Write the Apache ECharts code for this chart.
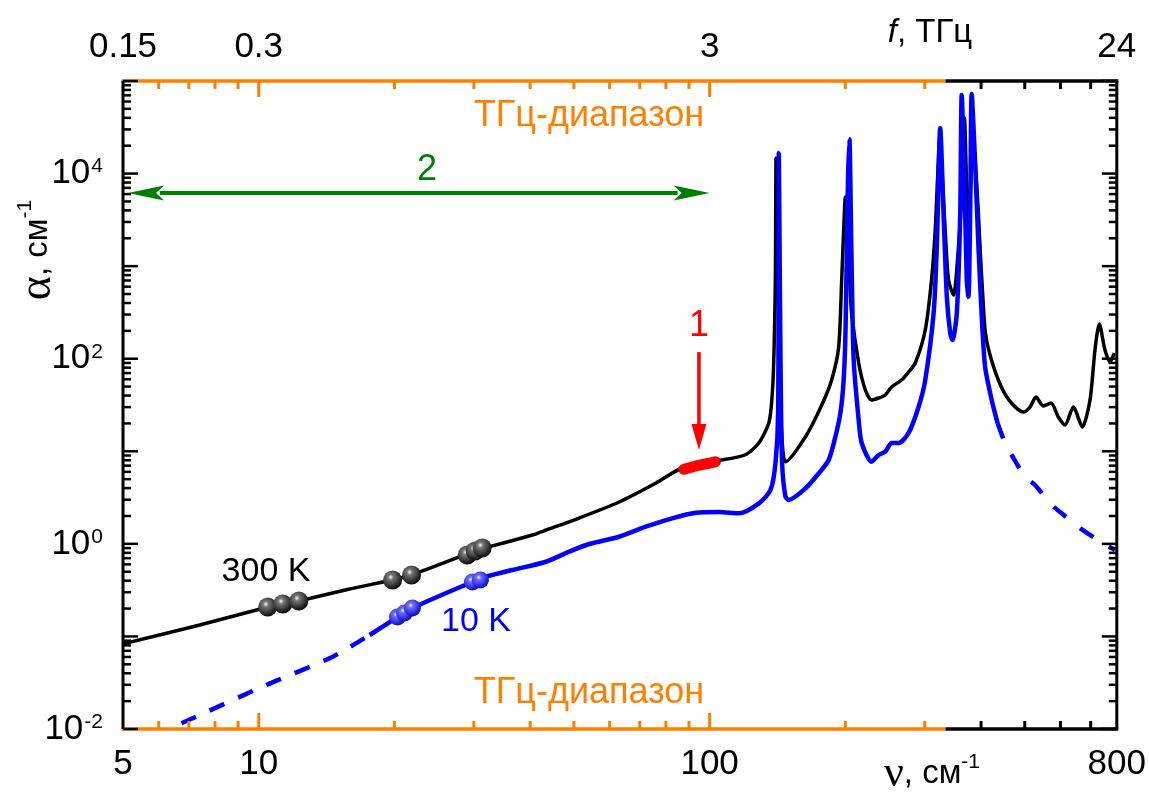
<!DOCTYPE html>
<html><head><meta charset="utf-8">
<script src="https://cdn.jsdelivr.net/npm/echarts/dist/echarts.min.js"></script>
<style>html,body{margin:0;padding:0;background:#fff}#c{width:1149px;height:795px}</style>
</head><body><div id="c"></div>
<script>
// ---------- data ----------
const xLabelValues = [5, 10, 100, 800];              // bottom tick labels, cm^-1
const xLabelsTop = ['0.15', '0.3', '3', '24'];        // top tick labels, THz
const xMajorTicks = [10, 100];
const xMinorTicks = [6, 7, 8, 9, 20, 30, 40, 50, 60, 70, 80, 90, 200, 300, 400, 500, 600, 700];
const thzBandEnd = 333.6;                             // 10 THz in cm^-1 (end of orange band)
const yDecades = [-2, -1, 0, 1, 2, 3, 4, 5];
const yMinorFactors = [2, 3, 4, 5, 6, 7, 8, 9];

const black300 = [
[5.00,0.083],[7.40,0.133],[10.47,0.208],[11.31,0.224],[12.27,0.241],[15.9,0.325],[19.81,0.407],[21.82,0.461],
[29.33,0.797],[31.33,0.902],[32.97,0.95],[40.44,1.246],[43.42,1.411],[51.37,1.902],[62.99,2.832],[76.07,4.544],
[86.87,6.597],[103.3,7.852],[119.7,9.116],[128.6,12.29],[135.3,20.21],[137.4,35.81],[138.8,96.85],[139.9,708.7],
[140.4,14730],[141.1,5182],[142.2,430.7],[143.5,35.81],[145.3,10.32],[147.3,7.717],[163.2,14.37],[177.3,31.62],
[186.5,58.88],[193.3,133.8],[196.3,708.7],[198.3,2457],[200.0,5583],[202.4,2457],[204.5,708.7],[206.5,311.8],
[214.1,89.89],[221.5,45.92],[228.7,35.81],[237.1,37.63],[245.3,40.55],[253.3,49.47],[266.5,58.88],[276.2,71.84],
[285.9,89.89],[300.8,204.2],[310.6,708.7],[316.5,2457],[320.2,8520],[324.3,26100],[328.5,8520],[333.0,2457],
[338.7,708.7],[347.4,487.8],[356.4,1610],[363.7,8520],[367.5,39840],[371.2,8520],[375.0,1917],[378.9,6644],
[383.7,23050],[388.6,12380],[394.7,3567],[398.7,1319],[402.8,552.3],[409.0,189.6],[421.8,96.85],[443.7,49.47],
[467.0,33.23],[496.4,26.57],[513.7,30.08],[529.7,38.58],[549.8,30.84],[571.8,33.23],[593.5,23.46],[614.1,19.22],
[640.7,30.08],[670.8,18.29],[697.7,35.81],[715.6,124.2],[731.6,237.1],[753.1,124.2],[772.5,92.15],[789.7,115]
];
const blue10Solid = [
[17.62,0.1036],[20.31,0.162],[21.05,0.179],[21.92,0.203],[29.78,0.387],[31.02,0.407],[31.93,0.442],[36.51,0.522],
[43.35,0.641],[48.81,0.823],[54.07,0.996],[62.99,1.194],[72.15,1.532],[82.55,1.888],[93.14,2.17],[104.9,2.21],
[116.1,2.14],[128.6,2.74],[136.5,3.82],[140.0,7.47],[141.9,25.9],[142.4,16680],[142.9,2000],[143.6,100],
[144.8,7.47],[147.3,3.23],[149.8,2.98],[163.2,3.98],[174.6,5.78],[183.7,8.05],[190.1,14.37],[195.0,25.91],
[198.3,58.88],[200.2,204.2],[202.7,8520],[204.2,23460],[206.2,1622],[208.7,96.85],[214.1,21.77],[217.4,12.29],
[228.7,7.72],[237.1,9.12],[245.3,9.9],[253.3,12.29],[262.6,12.29],[276.2,15.76],[290.8,30.31],[300.8,58.88],
[313.9,311.8],[319.1,1622],[324.7,30830],[330.2,3750],[335.8,467.7],[341.7,189.6],[345.8,159.3],[353.4,311.8],
[359.6,3750],[362.3,70610],[367.5,8520],[371.8,708.7],[375.0,467.7],[378.3,3750],[381.3,72380],[388.0,13010],
[394.7,1622],[401.4,284.3],[408.3,81.97],[422.3,35.81],[435.3,20.05]
];
const blue10DashLow = [[6.74,0.01152],[10.40,0.0299],[14.59,0.0604],[17.62,0.1036]];
const blue10DashHigh = [[435.3,20.05],[452.1,12.29],[467.7,9.12],[500.7,5.31],[526.9,4.32],[573.5,2.63],
[603.6,2.14],[657.2,1.53],[697.5,1.25],[759.2,0.972],[792.4,0.858]];
const redBand = [[87.7,6.4],[95,7.1],[103,7.7]];
const markers300 = [[10.47,0.208],[11.31,0.224],[12.27,0.241],[19.81,0.407],[21.82,0.461],[29.0,0.758],[30.2,0.837],[31.3,0.902]];
const markers10 = [[20.31,0.162],[21.05,0.179],[21.92,0.203],[29.78,0.387],[31.02,0.407]];
const arrow1X = 94.7, arrow1Y = [118, 10.3];
const arrow2X = [5.13, 100], arrow2Y = 6170;

// ---------- styles ----------
const FONT = '"Liberation Sans", Arial, sans-serif';
const SERIF = '"Liberation Serif", "Times New Roman", serif';
const ORANGE = '#FF8000', GREEN = '#007F00', RED = '#FF0000', BLUE = '#0000FF';
const SMOOTH = 0.25;

function nearestIdx(v) {
  for (let i = 0; i < xLabelValues.length; i++) {
    if (Math.abs(Math.log10(v / xLabelValues[i])) < 0.01) return i;
  }
  return -1;
}

function ln(x1, y1, x2, y2, c, w) {
  return {type: 'line', shape: {x1, y1, x2, y2}, style: {stroke: c, lineWidth: w}};
}

function frameRender(params, api) {
  const cs = params.coordSys;
  const L = cs.x, R = cs.x + cs.width, T = cs.y, B = cs.y + cs.height;
  const ch = [];
  const xb = api.coord([thzBandEnd, 1])[0];
  const aw = 3.5;
  ch.push(ln(L - 1.5, B, xb, B, ORANGE, aw), ln(xb, B, R + 1.5, B, '#000', aw));
  ch.push(ln(L - 1.5, T, xb, T, ORANGE, aw), ln(xb, T, R + 1.5, T, '#000', aw));
  ch.push(ln(L, T, L, B, '#000', 3), ln(R, T, R, B, '#000', 3));
  const xt = (v, len) => {
    const px = api.coord([v, 1])[0];
    const c = v < thzBandEnd ? ORANGE : '#000';
    ch.push(ln(px, B, px, B - len, c, 3), ln(px, T, px, T + len, c, 3));
  };
  xMajorTicks.forEach(v => xt(v, 16));
  xMinorTicks.forEach(v => xt(v, 8));
  const yt = (v, len) => {
    const py = api.coord([10, v])[1];
    ch.push(ln(L, py, L + len, py, '#000', 2.5), ln(R, py, R - len, py, '#000', 2.5));
  };
  yDecades.forEach(d => {
    yt(Math.pow(10, d), 15);
    if (d < 5) yMinorFactors.forEach(k => yt(k * Math.pow(10, d), 8));
  });
  return {type: 'group', children: ch};
}

function arrowRender(params, api) {
  const ch = [];
  const p0 = api.coord([arrow2X[0], arrow2Y]), p1 = api.coord([arrow2X[1], arrow2Y]);
  const hl = 36, hw = 7.5;
  ch.push(ln(p0[0] + hl - 4, p0[1], p1[0] - hl + 4, p1[1], GREEN, 4));
  ch.push({type: 'polygon', shape: {points: [[p0[0], p0[1]], [p0[0] + hl, p0[1] - hw], [p0[0] + hl - 8, p0[1]], [p0[0] + hl, p0[1] + hw]]}, style: {fill: GREEN}});
  ch.push({type: 'polygon', shape: {points: [[p1[0], p1[1]], [p1[0] - hl, p1[1] - hw], [p1[0] - hl + 8, p1[1]], [p1[0] - hl, p1[1] + hw]]}, style: {fill: GREEN}});
  const q0 = api.coord([arrow1X, arrow1Y[0]]), q1 = api.coord([arrow1X, arrow1Y[1]]);
  const rl = 26, rw = 7.5;
  ch.push(ln(q0[0], q0[1], q1[0], q1[1] - rl + 4, RED, 3.5));
  ch.push({type: 'polygon', shape: {points: [[q1[0], q1[1]], [q1[0] - rw, q1[1] - rl], [q1[0] + rw, q1[1] - rl]]}, style: {fill: RED}});
  return {type: 'group', children: ch};
}

const sphere = (hi, mid, dark) => ({type: 'radial', x: 0.4, y: 0.35, r: 0.7,
  colorStops: [{offset: 0, color: hi}, {offset: 0.2, color: mid}, {offset: 1, color: dark}]});

const xAxisCommon = {
  type: 'log', logBase: 10, min: 5, max: 800,
  axisLine: {show: false}, axisTick: {show: false}, splitLine: {show: false}, minorTick: {show: false}
};

const chart = echarts.init(document.getElementById('c'));
chart.setOption({
  animation: false,
  backgroundColor: '#fff',
  grid: {left: 123, right: 32, top: 81, bottom: 66},
  xAxis: [
    Object.assign({}, xAxisCommon, {position: 'bottom',
      axisLabel: {color: '#000', fontSize: 35, fontFamily: FONT, margin: 18, interval: 0, showMinLabel: true, showMaxLabel: true,
        formatter: v => { const i = nearestIdx(v); return i < 0 ? '' : String(xLabelValues[i]); }}}),
    Object.assign({}, xAxisCommon, {position: 'top',
      axisLabel: {color: '#000', fontSize: 35, fontFamily: FONT, margin: 16, interval: 0, showMinLabel: true, showMaxLabel: true,
        formatter: v => { const i = nearestIdx(v); return i < 0 ? '' : xLabelsTop[i]; }}})
  ],
  yAxis: [{
    type: 'log', logBase: 10, min: 0.01, max: 100000,
    axisLine: {show: false}, axisTick: {show: false}, splitLine: {show: false}, minorTick: {show: false},
    axisLabel: {color: '#000', margin: 20, interval: 0, showMinLabel: true, showMaxLabel: true,
      formatter: v => { const e = Math.round(Math.log10(v)); return (e % 2 === 0 && e < 5) ? '{b|10}{s|' + e + '}' : ''; },
      rich: {
        b: {fontSize: 35, fontFamily: FONT, color: '#000'},
        s: {fontSize: 21, fontFamily: FONT, color: '#000', verticalAlign: 'top', padding: [0, 0, 0, 1]}
      }}
  }],
  series: [
    {type: 'line', data: black300, showSymbol: false, symbol: 'none', smooth: SMOOTH, lineStyle: {color: '#000', width: 3.5}, z: 2},
    {type: 'line', data: blue10DashLow, showSymbol: false, symbol: 'none', smooth: SMOOTH, lineStyle: {color: BLUE, width: 4.5, type: [16, 15]}, z: 3},
    {type: 'line', data: blue10Solid, showSymbol: false, symbol: 'none', smooth: SMOOTH, lineStyle: {color: BLUE, width: 4.5}, z: 3},
    {type: 'line', data: blue10DashHigh, showSymbol: false, symbol: 'none', smooth: SMOOTH, lineStyle: {color: BLUE, width: 4.5, type: [16, 18]}, z: 3},
    {type: 'line', data: redBand, showSymbol: false, symbol: 'none', lineStyle: {color: RED, width: 11, cap: 'round'}, z: 4},
    {type: 'scatter', data: markers300, symbol: 'circle', symbolSize: 19, itemStyle: {color: sphere('#ffffff', '#777777', '#000000'), opacity: 1}, z: 5},
    {type: 'scatter', data: markers10, symbol: 'circle', symbolSize: 17, itemStyle: {color: sphere('#ffffff', '#7070ff', '#0000c0'), opacity: 1}, z: 5},
    {type: 'custom', data: [[10, 1]], renderItem: arrowRender, z: 6, silent: true},
    {type: 'custom', data: [[10, 1]], renderItem: frameRender, z: 10, silent: true}
  ],
  graphic: [
    {type: 'text', x: 589, y: 116, z: 20, style: {text: 'ТГц-диапазон', fill: ORANGE, font: '36px ' + FONT, align: 'center', verticalAlign: 'middle'}},
    {type: 'text', x: 589, y: 693, z: 20, style: {text: 'ТГц-диапазон', fill: ORANGE, font: '36px ' + FONT, align: 'center', verticalAlign: 'middle'}},
    {type: 'text', x: 427, y: 170, z: 20, style: {text: '2', fill: GREEN, font: '36px ' + FONT, align: 'center', verticalAlign: 'middle'}},
    {type: 'text', x: 699, y: 326, z: 20, style: {text: '1', fill: RED, font: '36px ' + FONT, align: 'center', verticalAlign: 'middle'}},
    {type: 'text', x: 266, y: 572, z: 20, style: {text: '300 K', fill: '#000', font: '34px ' + FONT, align: 'center', verticalAlign: 'middle'}},
    {type: 'text', x: 476, y: 622, z: 20, style: {text: '10 K', fill: BLUE, font: '34px ' + FONT, align: 'center', verticalAlign: 'middle'}},
    {type: 'text', x: 930, y: 33, z: 20, style: {text: '{i|f}{t|, ТГц}', align: 'center', verticalAlign: 'middle',
      rich: {i: {fontSize: 33, fontFamily: FONT, fontStyle: 'italic', fill: '#000'}, t: {fontSize: 33, fontFamily: FONT, fill: '#000'}}}},
    {type: 'text', x: 932, y: 774, z: 20, style: {text: '{g|ν}{t|, см}{s|-1}', align: 'center', verticalAlign: 'middle',
      rich: {g: {fontSize: 44, fontFamily: SERIF, fill: '#000'}, t: {fontSize: 33, fontFamily: FONT, fill: '#000'},
        s: {fontSize: 21, fontFamily: FONT, fill: '#000', verticalAlign: 'top'}}}},
    {type: 'text', x: 38, y: 250, rotation: Math.PI / 2, z: 20, style: {text: '{g|α}{t|, см}{s|-1}', align: 'center', verticalAlign: 'middle',
      rich: {g: {fontSize: 46, fontFamily: SERIF, fill: '#000'}, t: {fontSize: 33, fontFamily: FONT, fill: '#000'},
        s: {fontSize: 21, fontFamily: FONT, fill: '#000', verticalAlign: 'top'}}}}
  ]
});
</script></body></html>
